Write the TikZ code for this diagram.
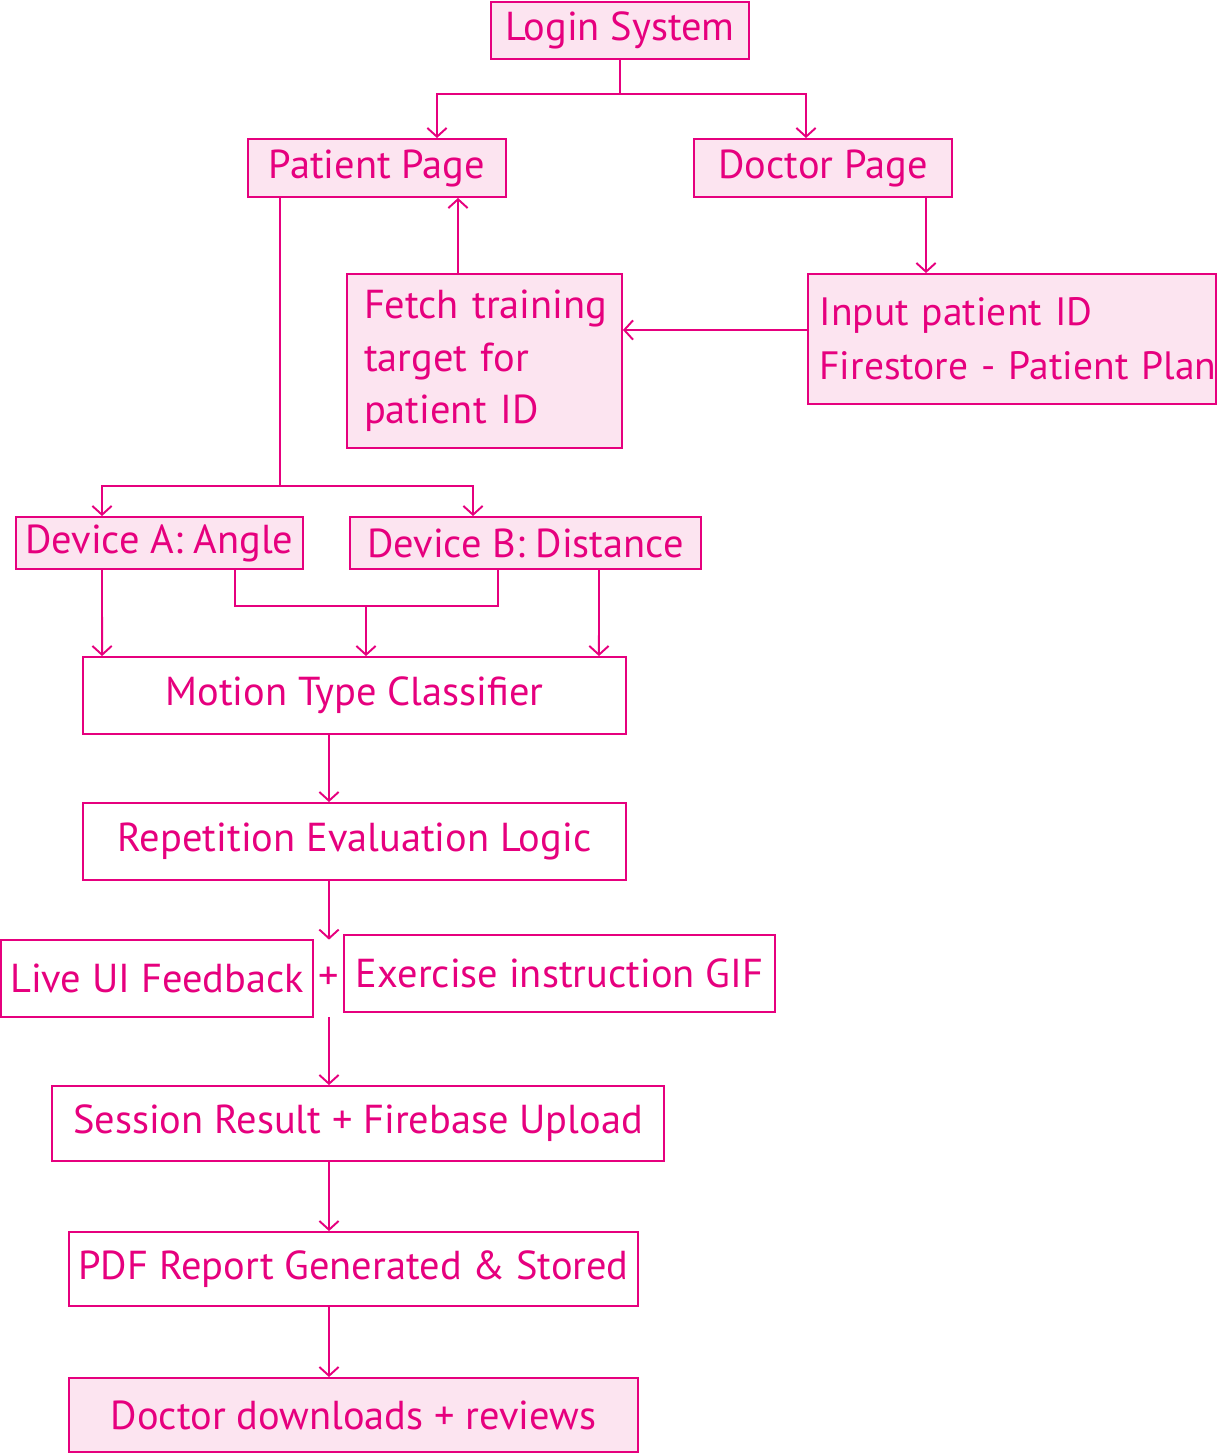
\documentclass[tikz,border=0pt]{standalone}
\usepackage{fontspec}
\setmainfont{PT Sans}
\usepackage{xcolor}
\usetikzlibrary{arrows.meta, positioning}

\definecolor{flowmag}{HTML}{E6007E}
\definecolor{flowpink}{HTML}{FCE4F0}

\tikzset{
  flowline/.style={draw=flowmag, line width=1.1pt},
  filledbox/.style={flowline, fill=flowpink, text=flowmag, inner sep=0pt,
    font=\fontsize{23}{30}\selectfont},
  whitebox/.style={flowline, fill=white, text=flowmag, inner sep=0pt,
    font=\fontsize{23}{30}\selectfont},
  >={Straight Barb[length=5pt,width=11pt]}
}

\begin{document}
\begin{tikzpicture}[x=0.02cm, y=-0.02cm]
  \useasboundingbox (0,0) rectangle (1218,1454);

  \node[filledbox, minimum width=5.16cm, minimum height=1.14cm] (login) at (620,30.5) {Login System};
  \node[filledbox, minimum width=5.16cm, minimum height=1.16cm] (patient) at (377,168) {Patient Page};
  \node[filledbox, minimum width=5.16cm, minimum height=1.16cm] (doctor) at (823,168) {Doctor Page};
  \node[filledbox, minimum width=5.5cm, minimum height=3.48cm, text width=4.82cm, inner xsep=0.34cm, align=left] (fetch) at (484.5,361) {\mbox{Fetch training}\\\mbox{target for}\\\mbox{patient ID}};
  \node[filledbox, minimum width=8.16cm, minimum height=2.6cm, text width=7.7cm, inner xsep=0.23cm, align=left, font=\fontsize{22.5}{31}\selectfont] (input) at (1012,339) {\mbox{Input patient ID}\\\mbox{Firestore - Patient Plan}};
  \node[filledbox, minimum width=5.74cm, minimum height=1.04cm] (devA) at (159.5,543) {Device A: Angle};
  \node[filledbox, minimum width=7.02cm, minimum height=1.04cm] (devB) at (525.5,543) {Device B: Distance};
  \node[whitebox, minimum width=10.86cm, minimum height=1.54cm] (motion) at (354.5,695.5) {Motion Type Classifier};
  \node[whitebox, minimum width=10.86cm, minimum height=1.54cm] (rep) at (354.5,841.5) {Repetition Evaluation Logic};
  \node[whitebox, minimum width=6.24cm, minimum height=1.54cm] (live) at (157,978.5) {Live UI Feedback};
  \node[text=flowmag, inner sep=0pt, minimum height=1.54cm, font=\fontsize{23}{30}\selectfont] (plus) at (329,978.5) {+};
  \node[whitebox, minimum width=8.62cm, minimum height=1.54cm] (gif) at (559.5,973.5) {Exercise instruction GIF};
  \node[whitebox, minimum width=12.24cm, minimum height=1.5cm] (session) at (358,1123.5) {Session Result + Firebase Upload};
  \node[whitebox, minimum width=11.38cm, minimum height=1.48cm] (pdf) at (353.5,1269) {PDF Report Generated \& Stored};
  \node[filledbox, minimum width=11.38cm, minimum height=1.48cm] (review) at (353.5,1415) {Doctor downloads + reviews};

  \coordinate (merge) at (366,605);

  \draw[flowline, ->] (login.south) -- ++(0,34) -| ([xshift=1.2cm]patient.north);
  \draw[flowline, ->] (login.south) -- ++(0,34) -| ([xshift=-0.34cm]doctor.north);
  \draw[flowline, ->] ([xshift=-0.53cm]fetch.north) -- ([xshift=1.62cm]patient.south);
  \draw[flowline, ->] ([xshift=2.06cm]doctor.south) -- ([xshift=-1.72cm]input.north);
  \draw[flowline, ->] ([yshift=0.18cm]input.west) -- ([yshift=0.62cm]fetch.east);
  \draw[flowline, ->] ([xshift=-1.94cm]patient.south) -- ++(0,288) -| ([xshift=-1.15cm]devA.north);
  \draw[flowline, ->] ([xshift=-1.94cm]patient.south) -- ++(0,288) -| ([xshift=-1.05cm]devB.north);
  \draw[flowline, ->] ([xshift=-1.15cm]devA.south) -- ([xshift=-5.05cm]motion.north);
  \draw[flowline] ([xshift=1.51cm]devA.south) -- ++(0,36) -| ([xshift=-0.55cm]devB.south);
  \draw[flowline, ->] (merge) -- (merge |- motion.north);
  \draw[flowline, ->] ([xshift=1.47cm]devB.south) -- ([xshift=4.89cm]motion.north);
  \draw[flowline, ->] (motion.south -| plus) -- (rep.north -| plus);
  \draw[flowline, ->] (rep.south -| plus) -- (plus.north);
  \draw[flowline, ->] (plus.south) -- (session.north -| plus);
  \draw[flowline, ->] (session.south -| plus) -- (pdf.north -| plus);
  \draw[flowline, ->] (pdf.south -| plus) -- (review.north -| plus);
\end{tikzpicture}
\end{document}
